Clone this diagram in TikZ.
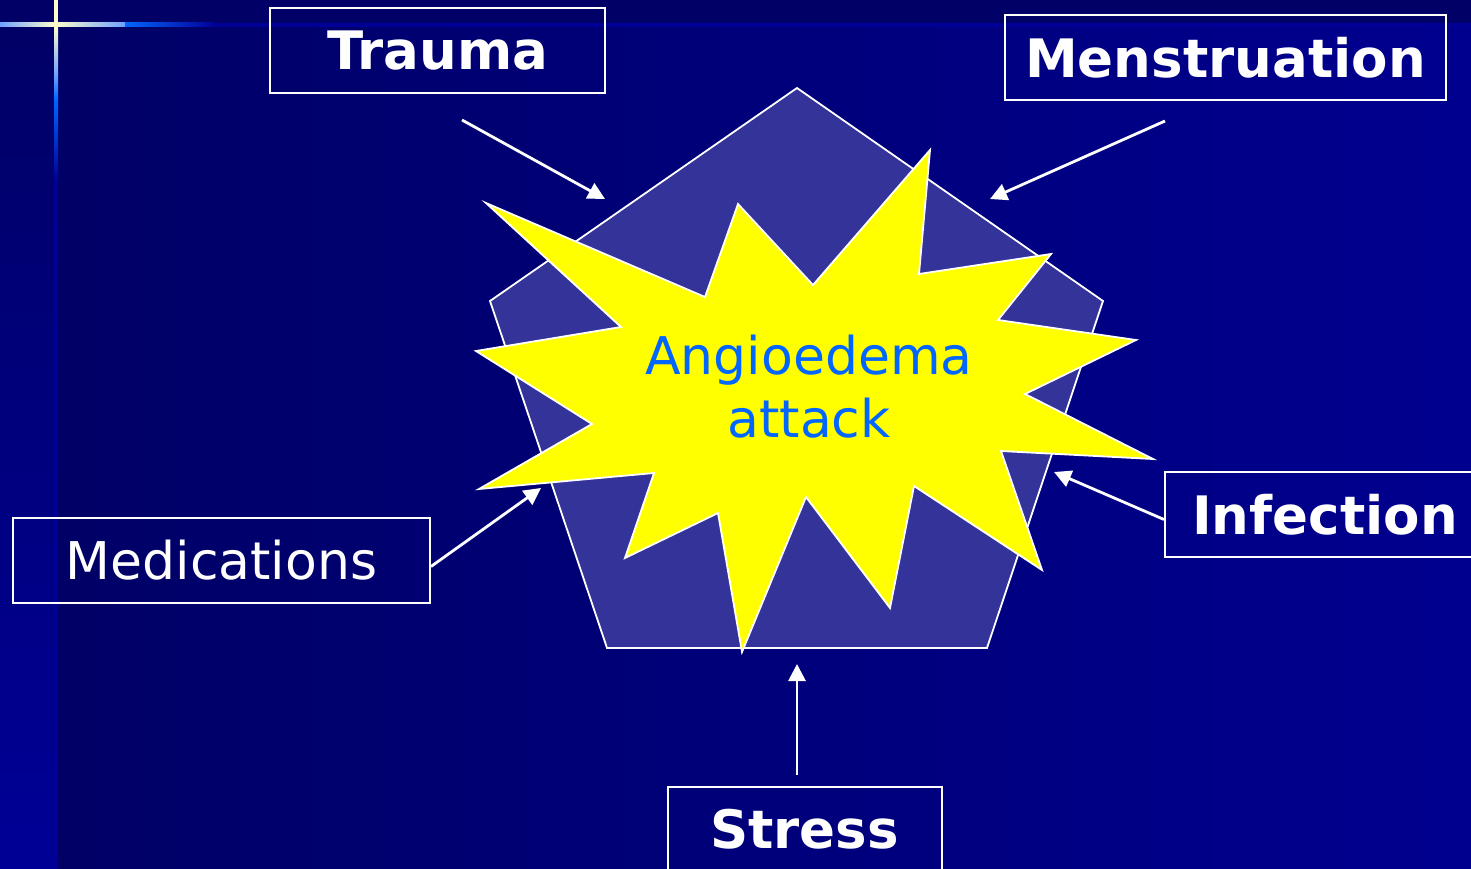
\documentclass[tikz,border=0pt]{standalone}
\usepackage{fontspec}
\setmainfont{DejaVu Sans}
\usepackage{tikz}
\usetikzlibrary{arrows.meta}
\usepackage{xcolor}
\definecolor{navydark}{RGB}{0,0,102}
\definecolor{navyright}{RGB}{0,0,143}
\definecolor{navyline}{RGB}{0,0,150}
\definecolor{pentablue}{RGB}{51,51,153}
\definecolor{crosscream}{RGB}{255,255,204}
\definecolor{crosslight}{RGB}{110,160,255}
\definecolor{crossblue}{RGB}{0,102,255}
\definecolor{attackblue}{RGB}{0,102,255}
\definecolor{burst}{RGB}{255,255,0}

\begin{document}
\begin{tikzpicture}[x=1pt,y=-1pt,
  trigger/.style={draw=white,line width=2pt,inner sep=0pt,minimum height=85pt,
    text=white,font=\fontsize{53}{63}\selectfont\bfseries},
  pointer/.style={draw=white,line width=2.8pt,-{Triangle[length=17pt,width=17pt]}}]
  \useasboundingbox (0,0) rectangle (1471,869);
  \clip (0,0) rectangle (1471,869);
  % background
  \shade[left color=navydark,right color=navyright] (54,0) rectangle (1471,869);
  \fill[navydark] (0,0) rectangle (1471,23);
  \shade[top color=navydark,bottom color=navyline] (0,23) rectangle (54,869);
  \fill[navyline] (54,23) rectangle (1471,27);
  % cross in the corner
  \shade[left color=crosslight,right color=crosscream] (0,23) rectangle (55,27);
  \shade[left color=crosscream,right color=crosslight] (55,23) rectangle (125,27);
  \shade[left color=crossblue,right color=navyline] (125,23) rectangle (215,27);
  \fill[crosscream] (54,0) rectangle (58,27);
  \shade[top color=crosscream,bottom color=crosslight] (54,27) rectangle (58,75);
  \shade[top color=crosslight,bottom color=crossblue] (54,75) rectangle (58,100);
  \shade[top color=crossblue,bottom color=navyline] (54,100) rectangle (58,180);
  \fill[navyline] (54,180) rectangle (58,869);
  % pentagon and burst
  \filldraw[fill=pentablue,draw=white,line width=1.8pt]
    (797,88) -- (1103,301) -- (987,648) -- (607,648) -- (490,301) -- cycle;
  \filldraw[fill=burst,draw=white,line width=1.8pt]
    (486,203) -- (705,297) -- (738,204) -- (813,285) -- (930,150) -- (919,274)
    -- (1051,254) -- (998,320) -- (1136,340) -- (1025,394) -- (1153,459)
    -- (1001,451) -- (1042,570) -- (914,486) -- (890,608) -- (806,497)
    -- (742,652) -- (718,513) -- (625,558) -- (654,473) -- (479,489)
    -- (592,424) -- (476,351) -- (621,327) -- cycle;
  \node[text=attackblue,align=center,font=\fontsize{52}{63}\selectfont] (attack) at (809,387) {Angioedema\\attack};
  % triggers
  \node[trigger,minimum width=335pt] (trauma) at (437.5,50.5) {Trauma};
  \node[trigger,minimum width=441pt] (menses) at (1225.5,58) {Menstruation};
  \node[trigger,minimum width=320pt] (infection) at (1325,514.5) {Infection};
  \node[trigger,minimum width=417pt,font=\fontsize{52}{63}\selectfont] (meds) at (221.5,560.5) {Medications};
  \node[trigger,minimum width=274pt] (stress) at (804.5,829.5) {Stress};
  \coordinate (traumafrom) at (462,120);
  \coordinate (traumato) at (605,199);
  \coordinate (mensesfrom) at (1165,121);
  \coordinate (mensesto) at (990,199);
  \coordinate (infectionto) at (1054,472);
  \coordinate (medsto) at (541,488);
  \coordinate (stressfrom) at (797,775);
  \coordinate (stressto) at (797,664);
  \draw[pointer] (traumafrom) -- (traumato);
  \draw[pointer] (mensesfrom) -- (mensesto);
  \draw[pointer] ([yshift=-5pt]infection.west) -- (infectionto);
  \draw[pointer] ([yshift=-6pt]meds.east) -- (medsto);
  \draw[pointer] (stressfrom) -- (stressto);
\end{tikzpicture}
\end{document}
